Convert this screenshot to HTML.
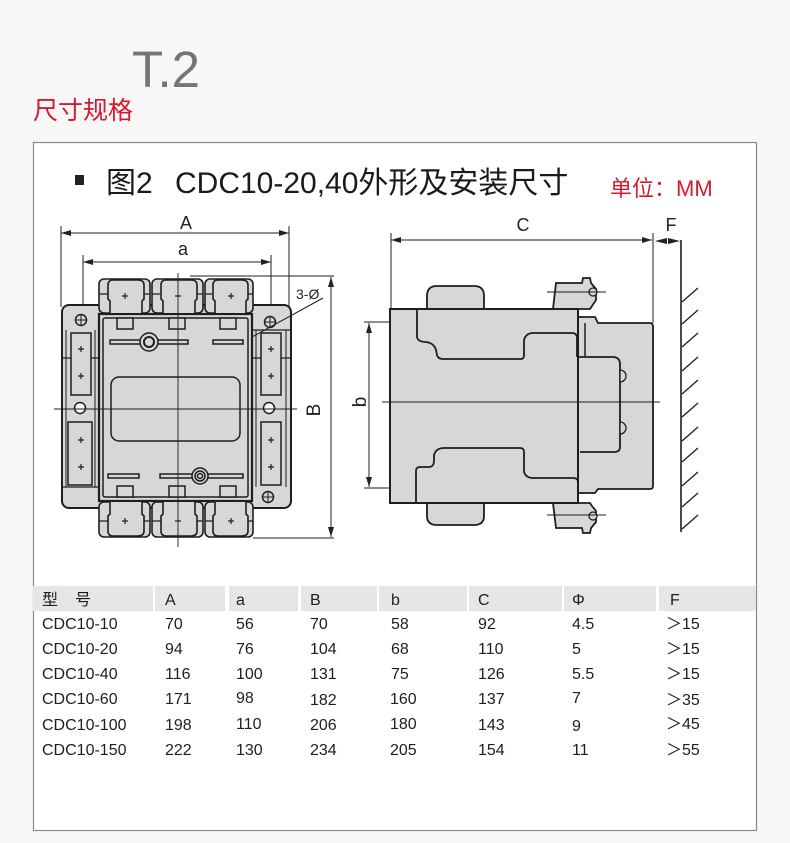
<!DOCTYPE html>
<html><head><meta charset="utf-8">
<style>
html,body{margin:0;padding:0;background:#f7f7f7;}
body{width:790px;height:843px;position:relative;overflow:hidden;font-family:"Liberation Sans","Noto Sans CJK SC",sans-serif;}
svg{position:absolute;left:0;top:0;}
</style></head>
<body>
<svg width="790" height="843" viewBox="0 0 790 843" xmlns="http://www.w3.org/2000/svg" font-family="Liberation Sans, Noto Sans CJK SC, sans-serif">
<defs>
<marker id="ar" viewBox="0 0 10 6" refX="10" refY="3" markerWidth="10" markerHeight="6" markerUnits="userSpaceOnUse" orient="auto-start-reverse"><path d="M0,0 L10,3 L0,6 Z" fill="#222"/></marker>
</defs>
<!-- headings -->
<text x="132" y="87" font-size="51" fill="#757575">T.2</text>
<text x="33" y="119" font-size="25" fill="#d41a2c" font-family="Liberation Sans, Noto Sans CJK SC, sans-serif">尺寸规格</text>
<!-- box -->
<rect x="33.5" y="142.5" width="723" height="688" fill="#fff" stroke="#8a8a8a" stroke-width="1.2"/>
<rect x="75" y="175" width="9" height="10" fill="#222"/>
<text x="106" y="193" font-size="30" fill="#1a1a1a">图2</text>
<text x="175" y="193" font-size="30" fill="#1a1a1a">CDC10-20,40外形及安装尺寸</text>
<text x="610" y="196" font-size="22" fill="#d41a2c">单位：MM</text>

<!-- LEFT DRAWING -->
<g stroke="#1e1e1e" fill="none">
<!-- dims -->
<line x1="61" y1="226" x2="61" y2="307" stroke-width="1"/>
<line x1="289" y1="226" x2="289" y2="306" stroke-width="1"/>
<line x1="61" y1="233" x2="289" y2="233" stroke-width="1" marker-start="url(#ar)" marker-end="url(#ar)"/>
<line x1="83" y1="255" x2="83" y2="305" stroke-width="1"/>
<line x1="271" y1="255" x2="271" y2="322" stroke-width="1"/>
<line x1="83" y1="262" x2="271" y2="262" stroke-width="1" marker-start="url(#ar)" marker-end="url(#ar)"/>
<line x1="190" y1="276" x2="334" y2="276" stroke-width="1"/>
<line x1="253" y1="538" x2="334" y2="538" stroke-width="1"/>
<line x1="331" y1="277" x2="331" y2="537" stroke-width="1" marker-start="url(#ar)" marker-end="url(#ar)"/>

<!-- base plate -->
<rect x="62" y="305" width="229" height="203" rx="7" fill="#d7d7d7" stroke-width="2"/>
<line x1="62" y1="487" x2="100" y2="487" stroke-width="1.2"/>
<line x1="252" y1="330" x2="291" y2="330" stroke-width="1.2"/>
<line x1="66" y1="330" x2="66" y2="487" stroke-width="1"/>
<line x1="95" y1="330" x2="95" y2="487" stroke-width="1"/>
<line x1="256" y1="330" x2="256" y2="487" stroke-width="1"/>
<line x1="286" y1="330" x2="286" y2="487" stroke-width="1"/>
<path d="M62,358 h9 M91,358 h8 M252,358 h9 M281,358 h10" stroke-width="1.2"/>
<!-- slots -->
<rect x="71" y="333" width="20" height="62" fill="#d7d7d7" stroke-width="1.5"/>
<rect x="68" y="422" width="24" height="63" fill="#d7d7d7" stroke-width="1.5"/>
<rect x="261" y="333" width="20" height="62" fill="#d7d7d7" stroke-width="1.5"/>
<rect x="261" y="422" width="20" height="63" fill="#d7d7d7" stroke-width="1.5"/>
<!-- holes -->
<circle cx="81" cy="320" r="5.5" fill="#d7d7d7" stroke-width="1.5"/>
<circle cx="270" cy="322" r="5.5" fill="#d7d7d7" stroke-width="1.5"/>
<circle cx="80" cy="408" r="5.5" fill="#fff" stroke-width="1.5"/>
<circle cx="269" cy="408" r="5.5" fill="#fff" stroke-width="1.5"/>
<circle cx="268" cy="497" r="5.5" fill="#d7d7d7" stroke-width="1.5"/>
<path d="M75.5,320 h11 M81,314.5 v11 M264.5,322 h11 M270,316.5 v11 M262.5,497 h11 M268,491.5 v11" stroke-width="1"/>
<!-- center body -->
<rect x="99" y="314" width="153" height="187" fill="#d7d7d7" stroke-width="2.2"/>
<rect x="103" y="318" width="145" height="179" rx="2" stroke-width="1.5"/>
<g fill="#d7d7d7" stroke-width="1.5">
<rect x="117" y="318" width="16" height="11"/><rect x="169" y="318" width="16" height="11"/><rect x="220" y="318" width="16" height="11"/>
<rect x="117" y="486" width="16" height="11"/><rect x="169" y="486" width="16" height="11"/><rect x="220" y="486" width="16" height="11"/>
<rect x="111" y="377" width="129" height="64" rx="8"/>
<rect x="110" y="340" width="78" height="4"/>
<rect x="213" y="340" width="30" height="4"/>
<rect x="108" y="474" width="31" height="4"/>
<rect x="160" y="474" width="83" height="4"/>
<circle cx="149" cy="342" r="9"/><circle cx="149" cy="342" r="5" stroke-width="2"/>
<circle cx="200" cy="476" r="8"/><circle cx="200" cy="476" r="5"/><circle cx="200" cy="476" r="2.5"/>
</g>
<!-- top terminals -->
<g fill="#d7d7d7" stroke-width="1.6">
<rect x="99" y="279" width="51" height="34" rx="5"/>
<rect x="152" y="279" width="51" height="34" rx="5"/>
<rect x="205" y="279" width="48" height="34" rx="5"/>
<path d="M110,313 L110,301 L108,299 L108,285 Q108,280 113,280 L138,280 Q144,280 144,285 L144,299 L142,301 L142,313"/>
<path d="M163,313 L163,301 L161,299 L161,285 Q161,280 166,280 L191,280 Q197,280 197,285 L197,299 L195,301 L195,313"/>
<path d="M215,313 L215,301 L213,299 L213,285 Q213,280 218,280 L242,280 Q248,280 248,285 L248,299 L246,301 L246,313"/>
<path d="M99,294 h9 M144,294 h6 M152,294 h9 M197,294 h6 M205,294 h8 M248,294 h5" fill="none" stroke-width="1.2"/>
<!-- bottom terminals -->
<rect x="99" y="502" width="51" height="35" rx="5"/>
<rect x="152" y="502" width="51" height="35" rx="5"/>
<rect x="205" y="502" width="48" height="35" rx="5"/>
<path d="M110,502 L110,514 L108,516 L108,531 Q108,536 113,536 L138,536 Q144,536 144,531 L144,516 L142,514 L142,502"/>
<path d="M163,502 L163,514 L161,516 L161,531 Q161,536 166,536 L191,536 Q197,536 197,531 L197,516 L195,514 L195,502"/>
<path d="M215,502 L215,514 L213,516 L213,531 Q213,536 218,536 L242,536 Q248,536 248,531 L248,516 L246,514 L246,502"/>
<path d="M99,521 h9 M144,521 h6 M152,521 h9 M197,521 h6 M205,521 h8 M248,521 h5" fill="none" stroke-width="1.2"/>
</g>
<!-- plus signs -->
<path d="M122,296 h6 M125,293 v6 M228,296 h6 M231,293 v6 M122,521 h6 M125,518 v6 M228,521 h6 M231,518 v6 M175,296 h6 M175,521 h6
M78,349 h6 M81,346 v6 M78,376 h6 M81,373 v6 M78,440 h6 M81,437 v6 M78,467 h6 M81,464 v6
M268,349 h6 M271,346 v6 M268,376 h6 M271,373 v6 M268,440 h6 M271,437 v6 M268,467 h6 M271,464 v6" stroke-width="1.2"/>
<!-- centerlines -->
<line x1="178" y1="273" x2="178" y2="547" stroke-width="0.9"/>
<line x1="54" y1="409" x2="297" y2="409" stroke-width="0.9"/>
<!-- 3-O leader -->
<line x1="252" y1="337" x2="323" y2="298" stroke-width="1"/>
</g>
<text x="186" y="229" font-size="18" fill="#222" text-anchor="middle">A</text>
<text x="183" y="255" font-size="18" fill="#222" text-anchor="middle">a</text>
<text x="296" y="299" font-size="14" fill="#222">3-Ø</text>
<text x="0" y="0" font-size="19" fill="#222" text-anchor="middle" transform="translate(320,410) rotate(-90)">B</text>

<!-- RIGHT DRAWING -->
<g stroke="#1e1e1e" fill="none">
<line x1="391" y1="233" x2="391" y2="309" stroke-width="1"/>
<line x1="653" y1="233" x2="653" y2="323" stroke-width="1"/>
<line x1="391" y1="240" x2="652" y2="240" stroke-width="1" marker-start="url(#ar)" marker-end="url(#ar)"/>
<path d="M655,241 L667,238 L667,244 Z M680,241 L668,238 L668,244 Z" fill="#222" stroke="none"/>
<line x1="681" y1="240" x2="681" y2="532" stroke-width="1.6"/>
<path d="M682,302 L698,288 M682,324 L698,310 M682,347 L698,333 M682,371 L698,357 M682,394 L698,380 M682,417 L698,403 M682,441 L698,427 M682,462 L698,448 M682,486 L698,472 M682,507 L698,493 M682,529 L698,515" stroke-width="1.3"/>
<!-- b dim -->
<line x1="364" y1="322" x2="396" y2="322" stroke-width="1"/>
<line x1="364" y1="488" x2="396" y2="488" stroke-width="1"/>
<line x1="369" y1="323" x2="369" y2="487" stroke-width="1" marker-start="url(#ar)" marker-end="url(#ar)"/>
<g fill="#d7d7d7" stroke-width="1.8">
<!-- bumps -->
<path d="M427,309 L427,296 Q427,286 437,286 L474,286 Q484,286 484,296 L484,309 Z"/>
<path d="M427,503 L427,516 Q427,525 437,525 L474,525 Q484,525 484,516 L484,503 Z"/>
<path d="M553,309 L556,283 L582,283 L583,278 L590,278 L591,283 L596,289 L596,300 L592,306 L590,309 Z"/>
<path d="M553,503 L556,528 L582,528 L583,533 L590,533 L591,528 L596,522 L596,511 L592,506 L590,503 Z"/>
<circle cx="593" cy="292" r="4" stroke-width="1.3"/>
<circle cx="593" cy="516" r="4" stroke-width="1.3"/>
<!-- right part -->
<path d="M578,317 L595,317 L598,323 L650,323 Q653,323 653,327 L653,486 Q653,489 650,489 L598,489 L595,493 L578,493 Z"/>
<!-- main body -->
<rect x="390" y="309" width="188" height="194" stroke-width="2"/>
<path d="M578,357 L614,357 Q620,358 620,364 L620,447 Q620,452 614,452 L580,452" fill="none"/>
<line x1="585" y1="323" x2="585" y2="357" stroke-width="1.5"/>
<path d="M417,309 L417,337 Q418,342 426,342 Q434,343 436,350 L437,355 Q438,359 443,359 L521,359 Q524,359 524,355 L524,340 Q526,333 533,333 L572,333 Q577,333 577,338 L577,357" fill="none"/>
<path d="M416,503 L416,471 Q416,467 420,467 L430,467 Q434,466 434,461 L434,455 Q436,448 444,448 L520,448 Q524,448 524,452 L524,472 Q526,478 533,478 L573,478 Q578,478 578,482" fill="none"/>
<path d="M620,370 A6,6 0 0 1 620,382 Z" stroke-width="1.3"/>
<path d="M620,422 A6,6 0 0 1 620,434 Z" stroke-width="1.3"/>
</g>
<line x1="547" y1="292" x2="606" y2="292" stroke-width="0.9"/>
<line x1="547" y1="515" x2="606" y2="515" stroke-width="0.9"/>
<line x1="382" y1="402" x2="660" y2="402" stroke-width="0.9"/>
</g>
<text x="523" y="231" font-size="18" fill="#222" text-anchor="middle">C</text>
<text x="671" y="231" font-size="18" fill="#222" text-anchor="middle">F</text>
<text x="0" y="0" font-size="19" fill="#222" text-anchor="middle" transform="translate(366,402) rotate(-90)">b</text>

<!-- TABLE -->
<g fill="#e6e6e6">
<rect x="33" y="586" width="120" height="25"/>
<rect x="155" y="586" width="70" height="25"/>
<rect x="229" y="586" width="69" height="25"/>
<rect x="301" y="586" width="76" height="25"/>
<rect x="379" y="586" width="88" height="25"/>
<rect x="469" y="586" width="93" height="25"/>
<rect x="564" y="586" width="92" height="25"/>
<rect x="659" y="586" width="97" height="25"/>
</g>
<g font-size="16" fill="#1e1e1e">
<text x="42" y="605">型</text><text x="75" y="605">号</text>
<text x="165" y="605">A</text><text x="236" y="605">a</text><text x="310" y="605">B</text><text x="391" y="605">b</text>
<text x="478" y="605">C</text><text x="572" y="605">Φ</text><text x="670" y="605">F</text>

<text x="42" y="629">CDC10-10</text><text x="165" y="629">70</text><text x="236" y="629">56</text><text x="310" y="629">70</text><text x="391" y="629">58</text><text x="478" y="629">92</text><text x="572" y="629">4.5</text><text x="666" y="629">＞15</text>
<text x="42" y="654">CDC10-20</text><text x="165" y="654">94</text><text x="236" y="654">76</text><text x="310" y="654">104</text><text x="391" y="654">68</text><text x="478" y="654">110</text><text x="572" y="654">5</text><text x="666" y="654">＞15</text>
<text x="42" y="679">CDC10-40</text><text x="165" y="679">116</text><text x="236" y="679">100</text><text x="310" y="679">131</text><text x="391" y="679">75</text><text x="478" y="679">126</text><text x="572" y="679">5.5</text><text x="666" y="679">＞15</text>
<text x="42" y="704">CDC10-60</text><text x="165" y="704">171</text><text x="236" y="703">98</text><text x="310" y="705">182</text><text x="390" y="704">160</text><text x="478" y="704">137</text><text x="572" y="703">7</text><text x="666" y="705">＞35</text>
<text x="42" y="730">CDC10-100</text><text x="165" y="730">198</text><text x="236" y="729">110</text><text x="310" y="730">206</text><text x="390" y="729">180</text><text x="478" y="730">143</text><text x="572" y="731">9</text><text x="666" y="729">＞45</text>
<text x="42" y="755">CDC10-150</text><text x="165" y="755">222</text><text x="236" y="755">130</text><text x="310" y="755">234</text><text x="390" y="755">205</text><text x="478" y="755">154</text><text x="572" y="755">11</text><text x="666" y="755">＞55</text>
</g>
</svg>
</body></html>
